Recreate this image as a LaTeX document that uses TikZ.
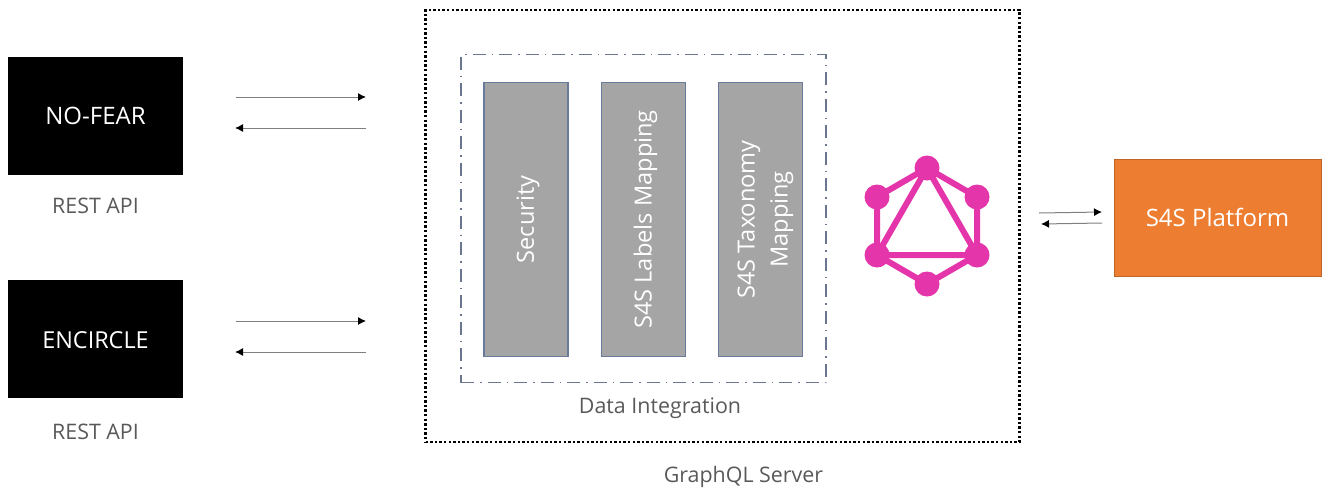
\documentclass[tikz,border=0pt]{standalone}
\usepackage{fontspec}
\setmainfont{Open Sans}
\usetikzlibrary{arrows.meta}
\definecolor{txtgray}{HTML}{595959}
\definecolor{barfill}{HTML}{A5A5A5}
\definecolor{barline}{HTML}{6A7A9A}
\definecolor{gqlpink}{HTML}{E535AB}
\definecolor{s4orange}{HTML}{ED7D31}
\definecolor{dashline}{HTML}{6A7590}
\newcommand{\nudge}[2]{\raisebox{-#1}[\height][\depth]{#2}}
\tikzset{
  x=1pt,y=-1pt,
  blackbox/.style={draw=none,fill=black,text=white,minimum width=175pt,minimum height=118pt,inner sep=0pt,font=\fontsize{24}{28}\selectfont},
  caption/.style={text=txtgray,inner sep=0pt,font=\fontsize{21.4}{25}\selectfont},
  bar/.style={draw=barline,line width=1.6pt,fill=barfill,minimum width=274pt,minimum height=84pt,inner sep=0pt,rotate=90,text=white,align=center,font=\fontsize{23.6}{33}\selectfont},
  thinarrow/.style={draw=black!50,line width=1pt,-{Latex[length=8pt,width=8pt,black]}},
  gqldot/.style={circle,fill=gqlpink,minimum size=25pt,inner sep=0pt},
  gqledge/.style={draw=gqlpink,line width=6pt},
}
\begin{document}
\begin{tikzpicture}
\useasboundingbox (0,0) rectangle (1327,488);
% server and integration frames
\node[draw=black,line width=2.4pt,dash pattern=on 2.4pt off 2.2pt,minimum width=594pt,minimum height=432pt,inner sep=0pt] (server) at (722.5,226) {};
\node[draw=dashline,line width=1.3pt,dash pattern=on 13pt off 6pt on 1.5pt off 6pt,minimum width=365pt,minimum height=328pt,inner sep=0pt] (integration) at (643.5,218.5) {};
% clients
\node[blackbox] (nofear) at (95.5,115.5) {NO-FEAR};
\node[blackbox,font=\fontsize{23.4}{28}\selectfont] (encircle) at (95.5,339) {\nudge{1pt}{ENCIRCLE}};
\node[caption] (rest1) at (95.5,206) {REST API};
\node[caption] (rest2) at (95.5,432) {REST API};
% bars
\node[bar] (security) at (526,219.5) {\nudge{2pt}{Security}};
\node[bar] (labels) at (643.5,219.5) {\nudge{2pt}{S4S Labels Mapping}};
\node[bar] (taxonomy) at (760.5,219.5) {\nudge{4pt}{\begin{tabular}{@{}c@{}}S4S Taxonomy\\Mapping\end{tabular}}};
\node[caption] (dataint) at (660,408) {Data Integration};
\node[caption] (gqlserver) at (743.5,477) {GraphQL Server};
% platform
\node[draw=s4orange!80!black,line width=0.6pt,fill=s4orange,text=white,minimum width=207pt,minimum height=117pt,inner sep=0pt,font=\fontsize{24}{28}\selectfont] (platform) at (1217.5,217.5) {S4S Platform};
% GraphQL logo
\node[gqldot] (gt) at (927,168) {};
\node[gqldot] (gul) at (877,197) {};
\node[gqldot] (gur) at (977,197) {};
\node[gqldot] (gll) at (877,255) {};
\node[gqldot] (glr) at (977,255) {};
\node[gqldot] (gb) at (927,284) {};
\draw[gqledge] (gt.center)--(gul.center)--(gll.center)--(gb.center)--(glr.center)--(gur.center)--(gt.center);
\draw[gqledge] (gt.center)--(gll.center)--(glr.center)--cycle;
% connectors
\coordinate (a1s) at (236,97); \coordinate (a1e) at (366,97);
\coordinate (a2s) at (366,128); \coordinate (a2e) at (235,128);
\coordinate (a3s) at (236,321); \coordinate (a3e) at (366,321);
\coordinate (a4s) at (366,352); \coordinate (a4e) at (235,352);
\coordinate (a5s) at (1039,213); \coordinate (a5e) at (1102,212);
\coordinate (a6s) at (1102,223); \coordinate (a6e) at (1041,224);
\draw[thinarrow] (a1s)--(a1e);
\draw[thinarrow] (a2s)--(a2e);
\draw[thinarrow] (a3s)--(a3e);
\draw[thinarrow] (a4s)--(a4e);
\draw[thinarrow] (a5s)--(a5e);
\draw[thinarrow] (a6s)--(a6e);
\end{tikzpicture}
\end{document}
